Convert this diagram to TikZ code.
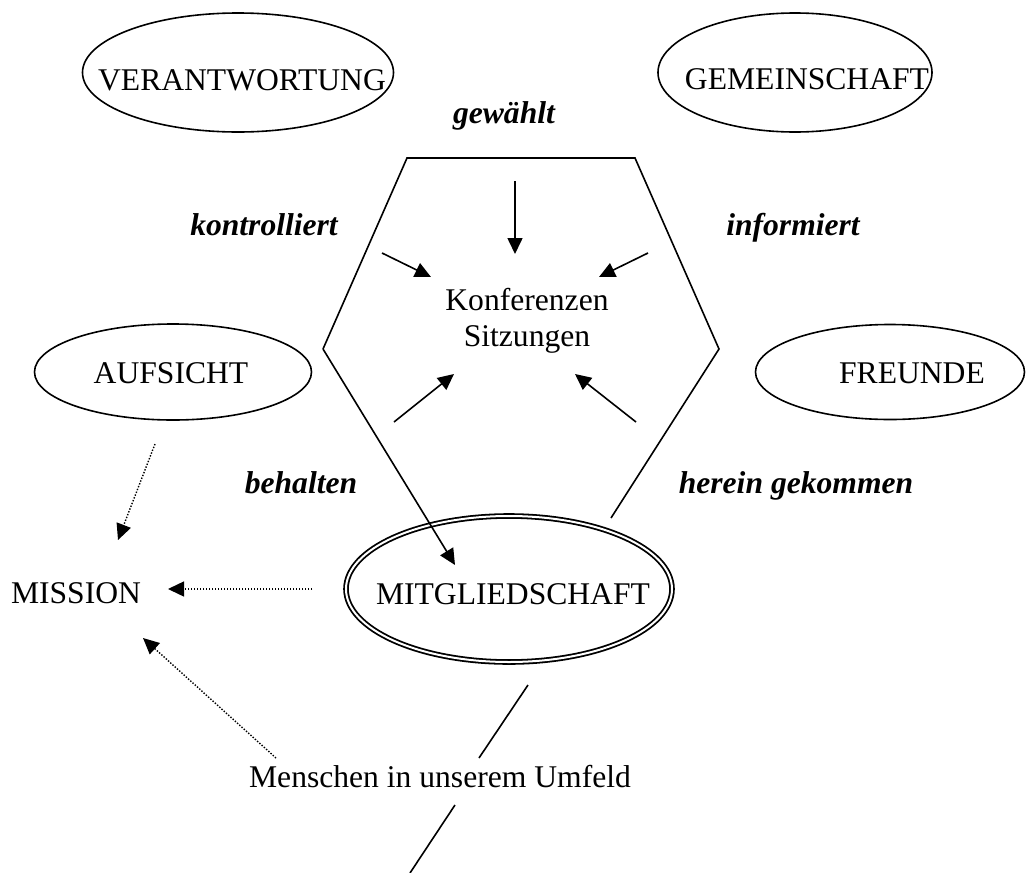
\documentclass[tikz,border=0pt]{standalone}
\usepackage{fontspec}
\setmainfont{Liberation Serif}
\usetikzlibrary{arrows.meta,shapes.geometric}
\tikzset{
  oval/.style={draw, ellipse, line width=1.6pt, inner sep=0pt},
  dbloval/.style={draw, ellipse, double, line width=1.8pt, double distance=2pt, inner sep=0pt},
  txt/.style={inner sep=0pt, font=\fontsize{31.6}{36}\selectfont},
  lbl/.style={inner sep=0pt, font=\fontsize{31.6}{36}\selectfont\bfseries\itshape},
  edge/.style={line width=1.6pt},
  arr/.style={line width=1.6pt, -{Triangle[length=16pt,width=15pt]}},
  darr/.style={line width=1.4pt, dash pattern=on 1.4pt off 1.6pt, -{Triangle[length=16pt,width=15pt]}}
}
\begin{document}
\begin{tikzpicture}[x=1pt,y=-1pt]
\useasboundingbox (0,0) rectangle (1026,873);
% ellipses
\node[oval, minimum width=311pt, minimum height=119pt] (ver) at (238,72.5) {};
\node[txt, anchor=base] (vert) at (242,90) {VERANTWORTUNG};
\node[oval, minimum width=274pt, minimum height=119pt] (gem) at (795,72.5) {};
\node[txt, anchor=base] (gemt) at (807,89) {GEMEINSCHAFT};
\node[oval, minimum width=277pt, minimum height=96pt] (auf) at (173,372) {};
\node[txt, anchor=base] (auft) at (171,383) {AUFSICHT};
\node[oval, minimum width=269pt, minimum height=95pt] (fre) at (890,372) {};
\node[txt, anchor=base] (fret) at (912,383) {FREUNDE};
\node[dbloval, minimum width=326pt, minimum height=146pt] (mit) at (509,589) {};
\node[txt, anchor=base] (mitt) at (513,604) {MITGLIEDSCHAFT};
\node[txt, anchor=base] (mis) at (76,603) {MISSION};
\node[txt, anchor=base] (men) at (440,787) {Menschen in unserem Umfeld};
\node[txt, align=center] (konf) at (527,320.6) {Konferenzen\\Sitzungen};
% labels
\node[lbl, anchor=base] (gew) at (504,123) {gewählt};
\node[lbl, anchor=base] (kon) at (264,235) {kontrolliert};
\node[lbl, anchor=base] (inf) at (793,235) {informiert};
\node[lbl, anchor=base] (beh) at (301,493) {behalten};
\node[lbl, anchor=base] (her) at (796,493) {herein gekommen};
% hexagon
\coordinate (hl) at (323,349);
\coordinate (htl) at (407,158);
\coordinate (htr) at (635,158);
\coordinate (hr) at (719,349);
\coordinate (hbr) at (611,518);
\coordinate (mtip) at (455,565);
\draw[edge, line join=miter] (hbr) -- (hr) -- (htr) -- (htl) -- (hl);
\draw[arr] (hl) -- (mtip);
% inner arrows
\coordinate (a1s) at (515,181); \coordinate (a1e) at (515,254);
\coordinate (a2s) at (382,253); \coordinate (a2e) at (431,277);
\coordinate (a3s) at (648,253); \coordinate (a3e) at (599,277);
\coordinate (a4s) at (394,422); \coordinate (a4e) at (454,374);
\coordinate (a5s) at (636,422); \coordinate (a5e) at (575,374);
\draw[arr] (a1s) -- (a1e);
\draw[arr] (a2s) -- (a2e);
\draw[arr] (a3s) -- (a3e);
\draw[arr] (a4s) -- (a4e);
\draw[arr] (a5s) -- (a5e);
% dotted arrows to MISSION
\coordinate (d1s) at (312,589); \coordinate (d1e) at (168,589);
\coordinate (d2s) at (155,444); \coordinate (d2e) at (118,540);
\coordinate (d3s) at (276,758); \coordinate (d3e) at (143,638);
\draw[darr] (d1s) -- (d1e);
\draw[darr] (d2s) -- (d2e);
\draw[darr] (d3s) -- (d3e);
% line through Menschen
\coordinate (l1s) at (528,685); \coordinate (l1e) at (479,758);
\coordinate (l2s) at (455,805); \coordinate (l2e) at (410,873);
\draw[edge] (l1s) -- (l1e);
\draw[edge] (l2s) -- (l2e);
\end{tikzpicture}
\end{document}
